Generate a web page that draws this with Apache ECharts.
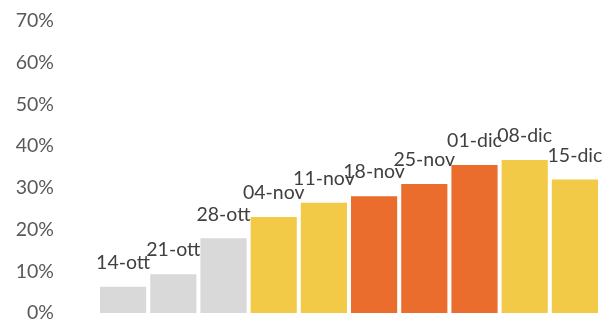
<!DOCTYPE html>
<html><head><meta charset="utf-8">
<script src="https://cdn.jsdelivr.net/npm/echarts@6/dist/echarts.min.js"></script>
<style>html,body{margin:0;padding:0;background:#fff}#c{width:605px;height:323px}</style>
</head><body><div id="c"></div>
<script>
const categories = ['14-ott','21-ott','28-ott','04-nov','11-nov','18-nov','25-nov','01-dic','08-dic','15-dic'];
const values = [0.063, 0.093, 0.179, 0.230, 0.264, 0.280, 0.309, 0.355, 0.367, 0.320];
const barColors = ['#D9D9D9','#D9D9D9','#D9D9D9','#F3CA47','#F3CA47','#EA6D2D','#EA6D2D','#EA6D2D','#F3CA47','#F3CA47'];
const yTicks = [0, 0.1, 0.2, 0.3, 0.4, 0.5, 0.6, 0.7];

const chart = echarts.init(document.getElementById('c'), null, {renderer:'canvas'});
chart.setOption({
  animation: false,
  grid: {left: 98, right: 5, top: 21, bottom: 8, containLabel: false},
  xAxis: {
    type: 'category', data: categories,
    axisLine: {show: false}, axisTick: {show: false}, axisLabel: {show: false}
  },
  yAxis: {
    type: 'value', min: yTicks[0], max: yTicks[yTicks.length-1], interval: 0.1,
    splitLine: {show: false}, axisLine: {show: false}, axisTick: {show: false},
    axisLabel: {
      margin: 44, color: '#595959', fontFamily: 'Lato', fontSize: 19.5,
      formatter: v => Math.round(v*100) + '%'
    }
  },
  series: [{
    type: 'bar', barCategoryGap: '8%',
    data: values.map((v,i) => ({value: v, itemStyle: {color: barColors[i]}})),
    label: {
      show: true, position: 'top', distance: 14,
      formatter: p => categories[p.dataIndex],
      color: '#404040', fontFamily: 'Lato', fontSize: 19.5
    }
  }]
});
</script></body></html>
